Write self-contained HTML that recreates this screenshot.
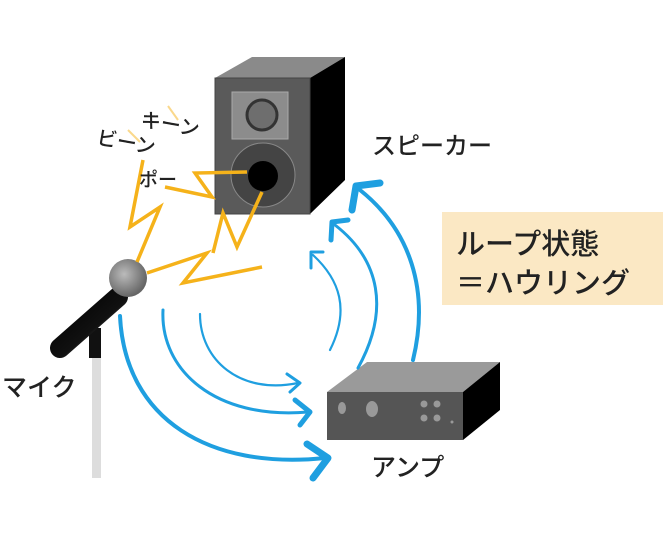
<!DOCTYPE html>
<html><head><meta charset="utf-8"><style>
html,body{margin:0;padding:0;background:#fff;}
svg{display:block;}
text{font-family:"Liberation Sans","Noto Sans CJK JP",sans-serif;fill:#222;font-weight:500;}
</style></head><body>
<svg width="669" height="543" viewBox="0 0 669 543" xmlns="http://www.w3.org/2000/svg">
<defs>
<linearGradient id="mic" x1="0" y1="0" x2="1" y2="1">
<stop offset="0" stop-color="#000"/><stop offset="0.6" stop-color="#111"/><stop offset="1" stop-color="#777"/>
</linearGradient>
<radialGradient id="head" cx="0.4" cy="0.4" r="0.6">
<stop offset="0" stop-color="#bbb"/><stop offset="1" stop-color="#666"/>
</radialGradient>
</defs>
<!-- speaker -->
<polygon points="215,78 252,57 345,57 310,78" fill="#8a8a8a"/>
<polygon points="310,78 345,57 345,180 310,214" fill="#000"/>
<rect x="215" y="78" width="95" height="136" fill="#5a5a5a" stroke="#444"/>
<rect x="232" y="92" width="56" height="47" fill="#8c8c8c" stroke="#aaa"/>
<circle cx="262" cy="115" r="15" fill="#6e6e6e" stroke="#333" stroke-width="3"/>
<circle cx="263" cy="175" r="32" fill="#444" stroke="#888" stroke-width="1"/>
<circle cx="263" cy="176" r="15" fill="#000"/>
<!-- amp -->
<polygon points="327,392 367,362 500,362 463,392" fill="#9a9a9a"/>
<polygon points="463,392 500,362 500,410 463,440" fill="#000"/>
<rect x="327" y="392" width="136" height="48" fill="#555"/>
<ellipse cx="342" cy="408" rx="4" ry="6" fill="#999"/>
<ellipse cx="372" cy="409" rx="6" ry="8" fill="#999"/>
<circle cx="424" cy="404" r="3.5" fill="#999"/><circle cx="437" cy="404" r="3.5" fill="#999"/>
<circle cx="424" cy="418" r="3.5" fill="#999"/><circle cx="437" cy="418" r="3.5" fill="#999"/>
<circle cx="452" cy="422" r="1.5" fill="#999"/>
<!-- mic stand -->
<rect x="92" y="350" width="9" height="128" fill="#ddd"/>
<rect x="89" y="328" width="12" height="30" fill="#111"/>
<line x1="118" y1="297" x2="60" y2="348" stroke="url(#mic)" stroke-width="20" stroke-linecap="round"/>
<circle cx="128" cy="278" r="19" fill="url(#head)"/>
<!-- lightning -->
<g fill="none" stroke="#f5b21a" stroke-width="3.5" stroke-linejoin="miter">
<polyline points="137,262 160,207 130,227 143,160"/>
<polyline points="165,187 212,197 195,173 247,172"/>
<polyline points="147,273 207,253 183,283 262,267"/>
<polyline points="213,253 223,213 237,247 262,192"/>
<polyline points="168,106 178,120" stroke-width="2" opacity="0.5"/>
<polyline points="128,130 140,142" stroke-width="2" opacity="0.5"/>
</g>
<!-- blue arcs down -->
<g fill="none" stroke="#1f9fe0" stroke-linecap="round" stroke-linejoin="round">
<path d="M120,316 C125,420 210,470 325,458" stroke-width="4"/>
<polyline points="307,444 328,458 313,478" stroke-width="7"/>
<path d="M163,310 C160,370 215,420 308,412" stroke-width="3"/>
<polyline points="295,400 310,412 300,425" stroke-width="5"/>
<path d="M200,314 C200,360 240,395 298,383" stroke-width="2.2"/>
<polyline points="287,374 300,383 290,392" stroke-width="3"/>
<!-- up arcs -->
<path d="M413,360 C430,290 410,230 360,190" stroke-width="4"/>
<polyline points="352,210 356,186 380,183" stroke-width="7"/>
<path d="M358,368 C390,310 380,260 335,225" stroke-width="3"/>
<polyline points="331,240 332,222 348,220" stroke-width="5"/>
<path d="M330,350 C350,310 340,280 313,255" stroke-width="2.2"/>
<polyline points="311,268 311,252 323,252" stroke-width="3"/>
</g>
<!-- text box -->
<rect x="442" y="212" width="221" height="93" fill="#fbe8c4"/>
<text x="456" y="254" font-size="29">ループ状態</text>
<text x="456" y="293" font-size="29">＝ハウリング</text>
<text x="372" y="154" font-size="24">スピーカー</text>
<text x="2" y="396" font-size="25">マイク</text>
<text x="371" y="476" font-size="25">アンプ</text>
<text x="140" y="126" font-size="20" transform="rotate(10 140 126)">キーン</text>
<text x="96" y="144" font-size="20" transform="rotate(10 96 144)">ビーン</text>
<text x="139" y="186" font-size="19">ポー</text>
</svg>
</body></html>
